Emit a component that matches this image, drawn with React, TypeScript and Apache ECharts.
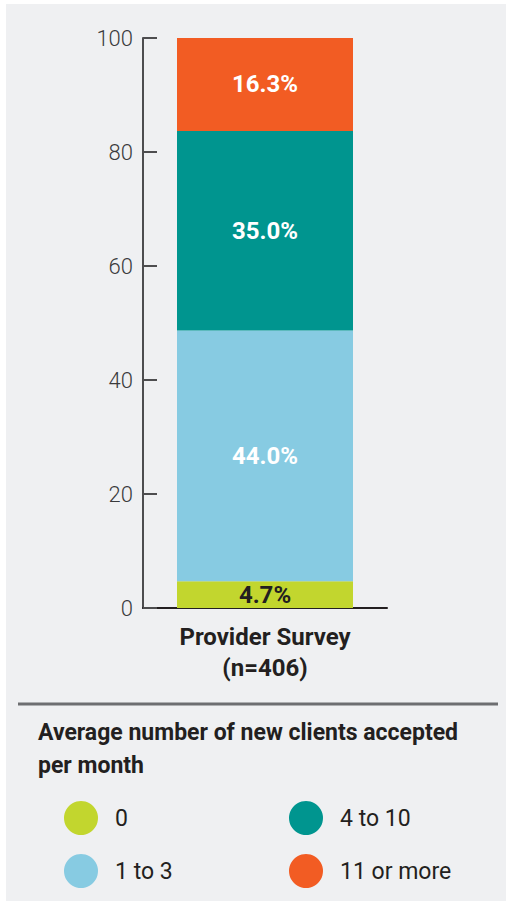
import React, { useEffect, useRef } from "react";
import * as echarts from "echarts";

const categories = ["Provider Survey\n(n=406)"];
const seriesNames = ["0", "1 to 3", "4 to 10", "11 or more"];
const seriesValues = [[4.7], [44.0], [35.0], [16.3]];
const seriesColors = ["#c2d62e", "#87cbe2", "#00958f", "#f25c23"];
const labelColors = ["#231f20", "#ffffff", "#ffffff", "#ffffff"];
const yTicks = { min: 0, max: 100, interval: 20 };
const legendTitle = "Average number of new clients accepted\nper month";

const FONT = "Roboto, 'Liberation Sans', Arial, sans-serif";

export default function App() {
  const ref = useRef<HTMLDivElement>(null);
  useEffect(() => {
    document.body.style.margin = "0";
    const chart = echarts.init(ref.current!, null, { renderer: "svg" });
    chart.setOption({
      animation: false,
      backgroundColor: "#ffffff",
      textStyle: { fontFamily: FONT },
      graphic: [
        {
          type: "rect",
          z: -10,
          silent: true,
          shape: { x: 6, y: 4, width: 500, height: 897 },
          style: { fill: "#eff0f2" },
        },
        {
          type: "line",
          shape: { x1: 18, y1: 704, x2: 498, y2: 704 },
          style: { stroke: "#6d6e71", lineWidth: 3 },
        },
      ],
      title: {
        text: legendTitle,
        left: 33,
        top: 711,
        textStyle: {
          fontFamily: FONT,
          fontSize: 23,
          fontWeight: "bold",
          color: "#231f20",
          lineHeight: 33,
        },
      },
      legend: [
        {
          data: [seriesNames[0], seriesNames[1]],
          orient: "vertical",
          left: 59,
          top: 796,
          icon: "circle",
          itemWidth: 34,
          itemHeight: 34,
          itemGap: 19,
          textStyle: { fontFamily: FONT, fontSize: 23, color: "#231f20", padding: [0, 0, 0, 12] },
        },
        {
          data: [seriesNames[2], seriesNames[3]],
          orient: "vertical",
          left: 284,
          top: 796,
          icon: "circle",
          itemWidth: 34,
          itemHeight: 34,
          itemGap: 19,
          textStyle: { fontFamily: FONT, fontSize: 23, color: "#231f20", padding: [0, 0, 0, 12] },
        },
      ],
      grid: { left: 143, right: 119, top: 38, bottom: 293, containLabel: false },
      xAxis: {
        type: "category",
        data: categories,
        axisLine: { show: true, lineStyle: { color: "#231f20", width: 2 } },
        axisTick: { show: false },
        axisLabel: {
          fontFamily: FONT,
          fontSize: 24,
          fontWeight: "bold",
          color: "#231f20",
          lineHeight: 31,
          margin: 13,
        },
      },
      yAxis: {
        type: "value",
        min: yTicks.min,
        max: yTicks.max,
        interval: yTicks.interval,
        axisLine: { show: true, lineStyle: { color: "#4d4d4f", width: 2 } },
        axisTick: { show: true, inside: true, length: 14, lineStyle: { color: "#4d4d4f", width: 2 } },
        splitLine: { show: false },
        axisLabel: { fontFamily: FONT, fontSize: 22, fontWeight: 300, color: "#3a3a3c", margin: 10 },
      },
      series: seriesNames.map((name, i) => ({
        name,
        type: "bar",
        stack: "total",
        barWidth: 176,
        data: seriesValues[i],
        itemStyle: { color: seriesColors[i] },
        label: {
          show: true,
          position: "inside",
          formatter: (p: any) => `${Number(p.value).toFixed(1)}%`,
          fontFamily: FONT,
          fontSize: 24,
          fontWeight: "bold",
          color: labelColors[i],
        },
      })),
    });
    return () => chart.dispose();
  }, []);
  return <div ref={ref} style={{ position: "fixed", left: 0, top: 0, width: 506, height: 901 }} />;
}
